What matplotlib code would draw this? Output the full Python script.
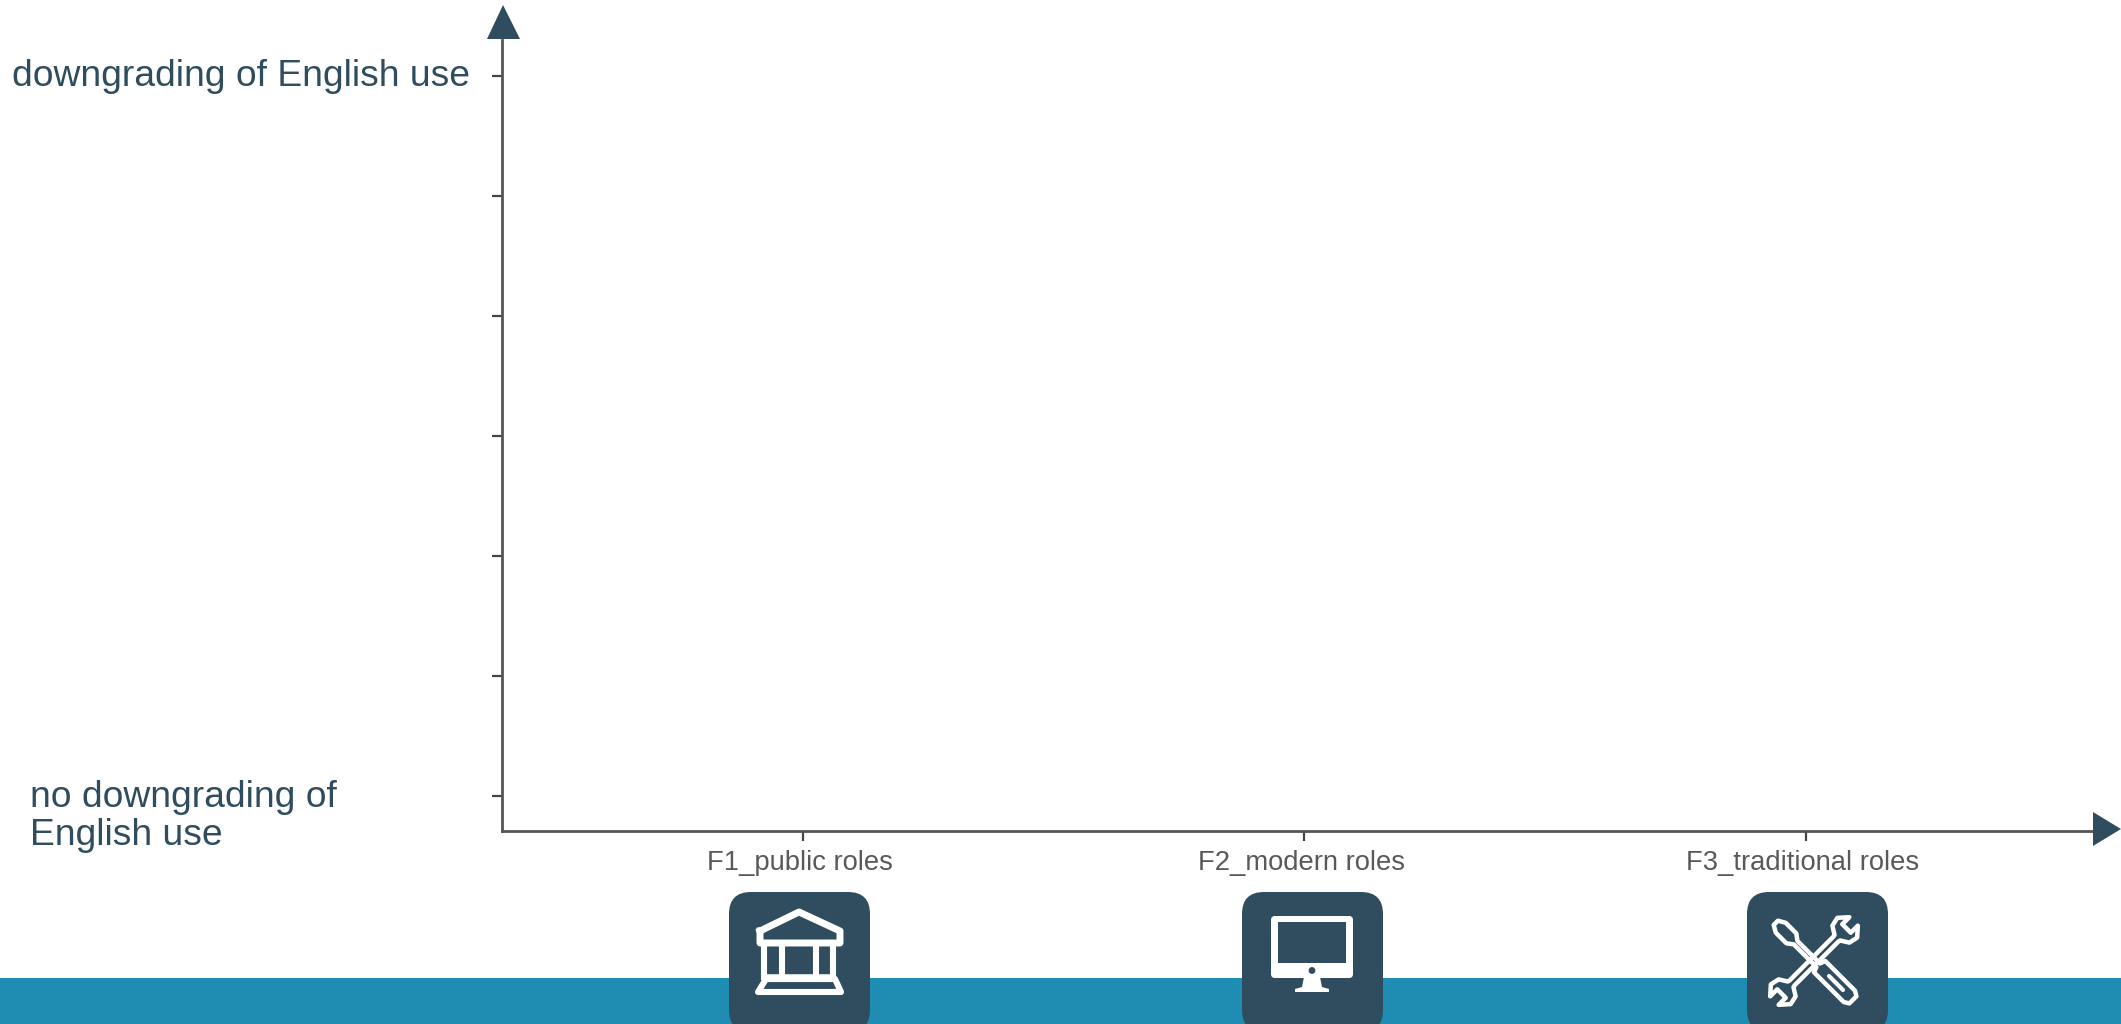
"""Empty role-downgrading axes with category icons underneath."""
import numpy as np
import matplotlib
matplotlib.use("Agg")
import matplotlib.pyplot as plt
from matplotlib.patches import FancyBboxPatch, Polygon, Rectangle, Circle
from matplotlib.path import Path
from matplotlib.patches import PathPatch
from matplotlib.transforms import Affine2D, ScaledTranslation

W, H = 2121, 1024
DARK = "#2F4D5E"
TEAL = "#1F8DB1"
AXIS = "#555555"

categories = ["F1_public roles", "F2_modern roles", "F3_traditional roles"]
y_levels = [0, 1, 2, 3, 4, 5, 6]
top_label = "downgrading of English use"
bottom_label = "no downgrading of\nEnglish use"

plt.rcParams["font.family"] = ["Liberation Sans", "DejaVu Sans"]
fig = plt.figure(figsize=(W / 100, H / 100), dpi=100)

# pixel overlay for the band, icons and arrow heads
bg = fig.add_axes([0, 0, 1, 1], zorder=0)
bg.set_xlim(0, W)
bg.set_ylim(H, 0)
bg.axis("off")
over = fig.add_axes([0, 0, 1, 1], zorder=3)
over.set_xlim(0, W)
over.set_ylim(H, 0)
over.axis("off")
over.patch.set_alpha(0)

bg.add_patch(Rectangle((0, 978), W, 46, color=TEAL, lw=0))

# main axes
left, right, top, bottom = 502, 2100, 40, 831
ax = fig.add_axes([left / W, 1 - bottom / H, (right - left) / W, (bottom - top) / H], zorder=2)
ax.patch.set_alpha(0)
x_pos = np.arange(len(categories))
ax.set_xticks(x_pos)
ax.set_xticklabels(categories, fontsize=19.7, color="#595959")
ax.set_yticks(y_levels)
ax.set_yticklabels([])
ax.set_xlim((left - 802.5) / 501.5, (right - 802.5) / 501.5)
ax.set_ylim(-35 / 119.8, 6 + 36 / 119.8)
for side in ["top", "right"]:
    ax.spines[side].set_visible(False)
for side in ["left", "bottom"]:
    ax.spines[side].set_color(AXIS)
    ax.spines[side].set_linewidth(2)
ax.tick_params(axis="both", color="#444444", width=1.6, length=7)
ax.tick_params(axis="x", pad=6.5)
# labels sit a little left of their ticks
shift = ScaledTranslation(-2.5 / 100, 0, fig.dpi_scale_trans)
for lab in ax.get_xticklabels():
    lab.set_transform(lab.get_transform() + shift)

# arrow heads
over.add_patch(Polygon([(503, 5), (487, 39), (520, 39)], color=DARK, lw=0))
over.add_patch(Polygon([(2121, 829), (2093, 812), (2093, 846)], color=DARK, lw=0))

# axis end labels
over.text(12, 76.5, top_label, fontsize=26.8, color=DARK, va="center", ha="left")
over.text(30, 816.5, bottom_label, fontsize=26.8, color=DARK, va="center", ha="left", linespacing=1.13)

# icon tiles
for x0 in [729, 1242, 1747]:
    over.add_patch(FancyBboxPatch((x0 + 22, 892 + 22), 141 - 44, 140 - 44,
                                  boxstyle="round,pad=22,rounding_size=22",
                                  fc=DARK, ec="none", clip_on=True))

# bank
over.plot([760, 799, 840, 840, 760, 760], [931, 912, 931, 943, 943, 931], color="white", lw=5, solid_joinstyle="round")
for x in [764, 782, 816, 833]:
    over.plot([x, x], [945, 977], color="white", lw=4.4)
over.plot([764, 833], [977, 977], color="white", lw=4)
over.plot([766, 835, 841, 758, 766], [979, 979, 992, 992, 979], color="white", lw=4.4, solid_joinstyle="round")

# monitor
over.add_patch(FancyBboxPatch((1273, 918), 78, 58, boxstyle="round,pad=2,rounding_size=4", fc="white", ec="none"))
over.add_patch(Rectangle((1278, 922), 68, 41, fc=DARK, ec="none"))
over.add_patch(Circle((1312, 970.5), 3.4, fc=DARK, ec="none"))
over.add_patch(Polygon([(1304, 977), (1320, 977), (1322, 987), (1329, 989), (1329, 992), (1295, 992), (1295, 989), (1302, 987)],
                       fc="white", ec="none"))


def tool_patch(points, angle, cx, cy):
    # outline drawn pointing up at the origin, then rotated onto the tile
    path = Path(points, closed=True)
    tr = Affine2D().rotate_deg(angle).translate(cx, cy) + over.transData
    return PathPatch(path, fc="none", ec="white", lw=3.2, transform=tr, joinstyle="round")


# screwdriver, tip at the upper left, handle at the lower right
driver_pts = [(-2.5, 6), (-2.5, -26), (-7, -32), (-7, -47), (-3, -54), (3, -54), (7, -47), (7, -32), (2.5, -26), (2.5, 6),
              (8, 8), (8, 50), (5, 55), (-5, 55), (-8, 50), (-8, 8)]
over.add_patch(tool_patch(driver_pts + [driver_pts[0]], -45, 1814, 961))
over.plot([1829, 1843], [976, 990], color="white", lw=3, solid_capstyle="round")

# wrench, running the other diagonal
wrench_pts = [(3.5, -31), (4, -33), (12, -38), (14, -47), (6, -56), (6, -46), (-6, -46), (-6, -56), (-14, -47), (-12, -38), (-4, -33), (-3.5, -31),
              (-3.5, 31), (-4, 33), (-12, 38), (-14, 47), (-6, 56), (-6, 46), (6, 46), (6, 56), (14, 47), (12, 38), (4, 33), (3.5, 31)]
over.add_patch(tool_patch(wrench_pts + [wrench_pts[0]], 45, 1814, 961))

fig.savefig("out.png", dpi=100, facecolor="white")
